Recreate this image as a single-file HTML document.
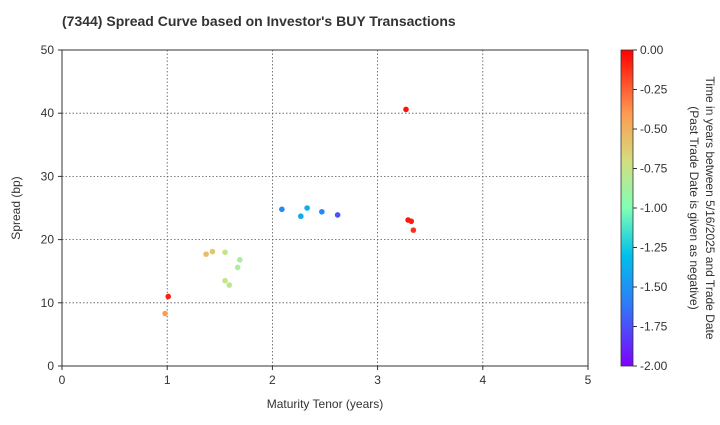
<!DOCTYPE html>
<html><head><meta charset="utf-8"><style>
body{margin:0;background:#fff;font-family:"Liberation Sans",sans-serif}
svg text{font-family:"Liberation Sans",sans-serif;fill:#333}
</style></head><body>
<svg id="c" width="720" height="420" xmlns="http://www.w3.org/2000/svg">
<defs><linearGradient id="jet" x1="0" y1="1" x2="0" y2="0">
<stop offset="0" stop-color="#8000ff"/><stop offset="0.2" stop-color="#2c7ef7"/><stop offset="0.35" stop-color="#00c0ec"/>
<stop offset="0.5" stop-color="#80ffb4"/><stop offset="0.65" stop-color="#d4dd80"/><stop offset="0.8" stop-color="#ff9a51"/><stop offset="1" stop-color="#ff0000"/></linearGradient></defs>
<text x="62" y="26" font-size="14" font-weight="bold" fill="#333">(7344)   Spread Curve based on Investor's BUY Transactions</text>
<g id="grid"></g>
<rect x="62" y="50" width="526" height="316" fill="none" stroke="#333" stroke-width="1"/>
<g id="pts"></g>
<text x="325" y="408" font-size="12" text-anchor="middle">Maturity Tenor (years)</text>
<text transform="translate(20,208) rotate(-90)" font-size="12" text-anchor="middle">Spread (bp)</text>
<rect x="621" y="50" width="12" height="316" fill="url(#jet)" stroke="#333" stroke-width="0.8"/>
<g id="cb"></g>
<text transform="translate(706,208) rotate(90)" font-size="12" text-anchor="middle">Time in years between 5/16/2025 and Trade Date</text>
<text transform="translate(690,208) rotate(90)" font-size="12" text-anchor="middle">(Past Trade Date is given as negative)</text>
</svg>
<script>
const xTicks=[0,1,2,3,4,5];
const yTicks=[0,10,20,30,40,50];
const cbTicks=["0.00","-0.25","-0.50","-0.75","-1.00","-1.25","-1.50","-1.75","-2.00"];
const tenor=[0.98,1.01,1.37,1.43,1.55,1.69,1.67,1.55,1.59,2.09,2.27,2.33,2.47,2.62,3.27,3.29,3.32,3.34];
const spread=[8.3,11.0,17.7,18.1,18.0,16.8,15.6,13.5,12.8,24.8,23.7,25.0,24.4,23.9,40.6,23.1,22.9,21.5];
const age=[-0.4,-0.08,-0.55,-0.6,-0.75,-0.85,-0.85,-0.75,-0.8,-1.55,-1.4,-1.38,-1.55,-1.75,-0.05,-0.05,-0.07,-0.12];
const sx=v=>62+v*105.2, sy=v=>366-v*6.32;
const NS="http://www.w3.org/2000/svg";
function mk(t,a,p){const e=document.createElementNS(NS,t);for(const k in a)e.setAttribute(k,a[k]);p.appendChild(e);return e;}
const g=document.getElementById('grid');
xTicks.forEach(v=>{
 if(v>0&&v<5){const l=mk('line',{x1:sx(v),x2:sx(v),y1:50,y2:366,stroke:'#555','stroke-dasharray':'1.5,2','stroke-width':0.8},g);
 
 }
 mk('line',{x1:sx(v),x2:sx(v),y1:366,y2:370,stroke:'#333'},g);
 const t=mk('text',{x:sx(v),y:384,'font-size':12,'text-anchor':'middle'},g);t.textContent=v;
 
 
});
yTicks.forEach(v=>{
 if(v>0&&v<50){const l=mk('line',{x1:62,x2:588,y1:sy(v),y2:sy(v),stroke:'#555','stroke-dasharray':'1.5,2','stroke-width':0.8},g);
 
 }
 mk('line',{x1:58,x2:62,y1:sy(v),y2:sy(v),stroke:'#333'},g);
 const t=mk('text',{x:54,y:sy(v)+4,'font-size':12,'text-anchor':'end'},g);t.textContent=v;
 
 
});
const cb=document.getElementById('cb');
cbTicks.forEach((s,i)=>{const y=50+i*316/8;
 mk('line',{x1:633,x2:637,y1:y,y2:y,stroke:'#333'},cb);
 const t=mk('text',{x:640,y:y+4,'font-size':12},cb);t.textContent=s;
 
 });
function jet(a){const f=(a+2)/2;
 const stops=[[0,[128,0,255]],[0.2,[44,126,247]],[0.35,[0,192,236]],[0.5,[128,255,180]],[0.65,[212,221,128]],[0.8,[255,154,81]],[1,[255,0,0]]];
 for(let i=1;i<stops.length;i++){if(f<=stops[i][0]){const [a0,c0]=stops[i-1],[a1,c1]=stops[i],t=(f-a0)/(a1-a0);
 return 'rgb('+c0.map((c,j)=>Math.round(c+(c1[j]-c)*t)).join(',')+')';}}return 'rgb(255,0,0)';}
const p=document.getElementById('pts');
tenor.forEach((x,i)=>{const c=mk('circle',{cx:sx(x),cy:sy(spread[i]),r:2.8,fill:jet(age[i])},p);
 
 });
</script>
</body></html>
